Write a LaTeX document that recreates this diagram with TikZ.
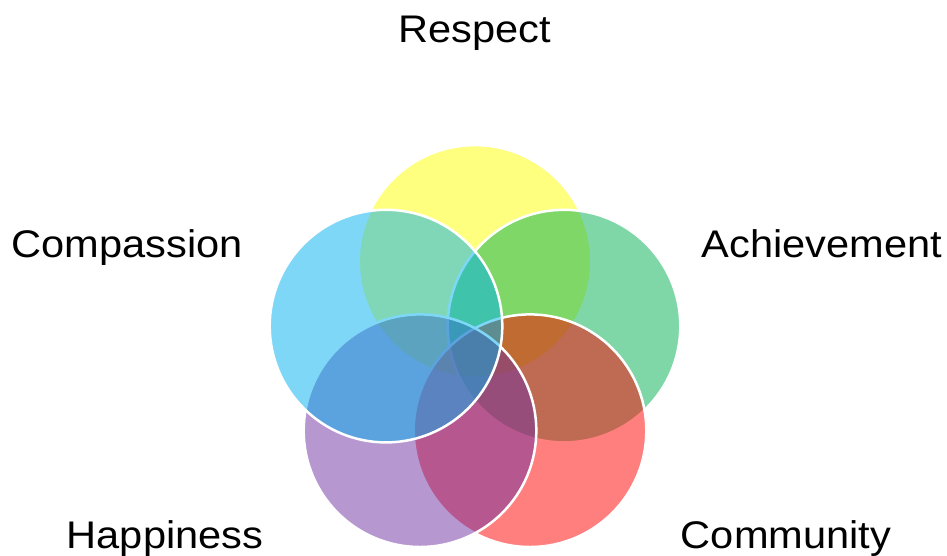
\documentclass[tikz,border=0pt]{standalone}
\usepackage{fontspec}
\setmainfont[FakeStretch=1.08]{Liberation Sans}
\definecolor{cYellow}{HTML}{FFFF00}
\definecolor{cBlue}{HTML}{00B0F0}
\definecolor{cGreen}{HTML}{00B050}
\definecolor{cPurple}{HTML}{7030A0}
\definecolor{cRed}{HTML}{FF0000}
\begin{document}
\begin{tikzpicture}[x=1pt,y=-1pt,
  petal/.style={circle, inner sep=0pt, minimum size=232.6pt, draw=white, line width=2.5pt, fill=#1, fill opacity=0.5},
  lbl/.style={anchor=base, inner sep=0pt, font=\fontsize{38.5}{44}\selectfont, text=black}]
\useasboundingbox (0,0) rectangle (947,555);
\node[petal=cYellow] (respect) at (475,261.4) {};
\node[petal=cGreen] (achievement) at (564,326.1) {};
\node[petal=cRed] (community) at (530,430.7) {};
\node[petal=cPurple] (happiness) at (420,430.7) {};
\node[petal=cBlue] (compassion) at (386,326.1) {};
\node[lbl] (tRespect) at (475,42) {Respect};
\node[lbl] (tCompassion) at (127,257) {Compassion};
\node[lbl] (tAchievement) at (822,257) {Achievement};
\node[lbl] (tHappiness) at (165,548) {Happiness};
\node[lbl] (tCommunity) at (786,548) {Community};
\end{tikzpicture}
\end{document}
